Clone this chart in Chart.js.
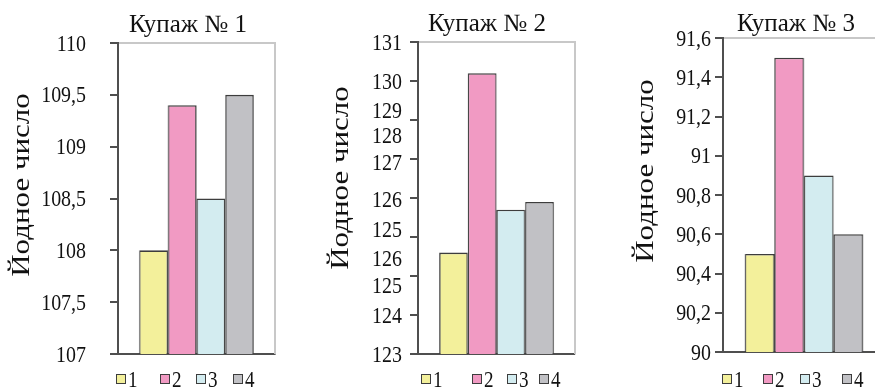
<!DOCTYPE html>
<html lang="ru">
<head>
<meta charset="utf-8">
<script src="https://cdn.jsdelivr.net/npm/chart.js@4/dist/chart.umd.min.js"></script>
<style>
  html, body { margin: 0; padding: 0; background: #fff; width: 875px; height: 387px; overflow: hidden; position: relative; }
  canvas { position: absolute; left: 0; top: 0; transform-origin: 0 0; transform: scaleX(0.83); }
  #deco div { position: absolute; }
  .frame { box-sizing: border-box; border-top: 2px solid #c8c8c8; border-right: 2px solid #c8c8c8; }
  .axis, .tick { background: #4f4f4f; }
  .txt { font-family: 'Liberation Serif', 'Times New Roman', serif; color: #111; white-space: nowrap; }
  .ylab { font-size: 24px; line-height: 24px; width: 200px; text-align: right; transform-origin: 100% 50%; transform: scaleX(0.83); }
  .cap { font-size: 25px; line-height: 25px; width: 200px; text-align: center; }
  .ytitle { font-size: 31px; line-height: 31px; transform-origin: 50% 50%; transform: translate(-50%, -50%) scaleX(0.83) rotate(-90deg); }
  .lbox { box-sizing: border-box; width: 10px; height: 10px; border: 1.5px solid #3d3d3d; }
  .ltxt { font-size: 23px; line-height: 23px; transform-origin: 0 0; transform: scaleX(0.83); }
</style>
</head>
<body>
<canvas id="c1" width="1085" height="387"></canvas>
<canvas id="c2" width="1085" height="387"></canvas>
<canvas id="c3" width="1085" height="387"></canvas>
<div id="deco"></div>
<script>
// ---- data ----
const seriesNames = ['1', '2', '3', '4'];
const panelTitles = ['Купаж № 1', 'Купаж № 2', 'Купаж № 3'];
const axisTitle = 'Йодное число';

const values1 = [108.0, 109.4, 108.5, 109.5];
const values2 = [125.6, 130.2, 126.7, 126.9];
const values3 = [90.5, 91.5, 90.9, 90.6];

const tickValues1 = [107, 107.5, 108, 108.5, 109, 109.5, 110];
const tickLabels1 = ['107', '107,5', '108', '108,5', '109', '109,5', '110'];

const tickMarks2  = [123, 124, 125, 126, 127, 128, 129, 130, 131];
const tickValues2 = [123, 124, 124.75, 125.45, 126.2, 126.95, 127.9, 128.6, 129.25, 130, 131];
const tickLabels2 = ['123', '124', '125', '126', '125', '126', '127', '128', '129', '130', '131'];

const tickValues3 = [90, 90.2, 90.4, 90.6, 90.8, 91, 91.2, 91.4, 91.6];
const tickLabels3 = ['90', '90,2', '90,4', '90,6', '90,8', '91', '91,2', '91,4', '91,6'];

// ---- styling ----
const seriesColors = ['#f3f09b', '#f19ac3', '#d3ecf0', '#c1c1c5'];
const barEdge = '#3d3d3d';
const axisColor = '#4f4f4f';
const S = 0.83;               // horizontal squeeze of the panel canvases
const CANVAS_W = 1085;
const CANVAS_H = 387;

const panels = [
  { id: 'c1', title: panelTitles[0], values: values1, min: 107, max: 110,
    marks: tickValues1, at: tickValues1, labels: tickLabels1,
    area: { left: 118, right: 275, top: 43, bottom: 354 }, gap: 25,
    titleAt: [188, 32], axisTitleAt: [20, 185], legendAt: [116, 160, 196, 233] },
  { id: 'c2', title: panelTitles[1], values: values2, min: 123, max: 131,
    marks: tickMarks2, at: tickValues2, labels: tickLabels2,
    area: { left: 418, right: 575, top: 42, bottom: 354 }, gap: 9,
    titleAt: [487, 30.5], axisTitleAt: [339, 178], legendAt: [421, 472, 507, 539] },
  { id: 'c3', title: panelTitles[2], values: values3, min: 90, max: 91.6,
    marks: tickValues3, at: tickValues3, labels: tickLabels3,
    area: { left: 723, right: 885, top: 38, bottom: 352 }, gap: 5,
    titleAt: [796, 31], axisTitleAt: [644, 171], legendAt: [722, 763, 800, 842] }
];

// ---- bar panels ----
const charts = panels.map(p => {
  const a = p.area;
  return new Chart(document.getElementById(p.id), {
    type: 'bar',
    data: {
      labels: [''],
      datasets: seriesNames.map((name, i) => ({
        label: name,
        data: [p.values[i]],
        backgroundColor: seriesColors[i],
        borderColor: barEdge,
        borderWidth: 1.6,
        borderSkipped: 'bottom',
        categoryPercentage: 0.73,
        barPercentage: 1.0
      }))
    },
    options: {
      responsive: false,
      animation: false,
      devicePixelRatio: 1,
      events: [],
      layout: { padding: { left: 0, right: CANVAS_W - a.right / S, top: a.top, bottom: CANVAS_H - a.bottom } },
      plugins: { legend: { display: false }, title: { display: false }, tooltip: { enabled: false } },
      scales: {
        x: {
          grid: { display: false },
          ticks: { display: false },
          border: { display: true, color: axisColor, width: 2 },
          afterFit(scale) { scale.height = 0; }
        },
        y: {
          min: p.min,
          max: p.max,
          afterFit(scale) { scale.width = a.left / S; scale.paddingTop = 0; scale.paddingBottom = 0; },
          grid: { display: false },
          border: { display: false },
          ticks: { display: false }
        }
      }
    }
  });
});

// ---- axis lines, tick marks, tick labels, captions and legends ----
const deco = document.getElementById('deco');
function add(cls, left, top, width, height, text) {
  const d = document.createElement('div');
  d.className = cls;
  d.style.left = left + 'px';
  d.style.top = top + 'px';
  if (width !== undefined) d.style.width = width + 'px';
  if (height !== undefined) d.style.height = height + 'px';
  if (text !== undefined) d.textContent = text;
  deco.appendChild(d);
  return d;
}

panels.forEach((p, n) => {
  const ch = charts[n];
  const ys = ch.scales.y;
  const ca = ch.chartArea;
  const L = ca.left * S;
  const R = ca.right * S;

  // light top/right edges of the plot box
  add('frame', L, ca.top - 1, R - L + 1, ca.bottom - ca.top + 1);
  // value axis line
  add('axis', L - 1, ca.top - 1, 2, ca.bottom - ca.top + 2);
  // tick marks on the value axis
  p.marks.forEach(v => {
    const py = ys.getPixelForValue(v);
    add('tick', L - 8, py - 1, 8, 2);
  });
  // tick labels
  const labelRight = L - 7 - p.gap;
  p.at.forEach((v, k) => {
    const py = ys.getPixelForValue(v);
    add('txt ylab', labelRight - 200, py - 12.5, undefined, undefined, p.labels[k]);
  });
  // panel caption
  add('txt cap', p.titleAt[0] - 100, p.titleAt[1] - 21, undefined, undefined, p.title);
  // rotated axis caption
  add('txt ytitle', p.axisTitleAt[0], p.axisTitleAt[1], undefined, undefined, axisTitle);
  // legend
  seriesNames.forEach((name, i) => {
    const x = p.legendAt[i];
    const b = add('lbox', x, 374);
    b.style.background = seriesColors[i];
    add('txt ltxt', x + 12, 367.7, undefined, undefined, name);
  });
});
</script>
</body>
</html>
